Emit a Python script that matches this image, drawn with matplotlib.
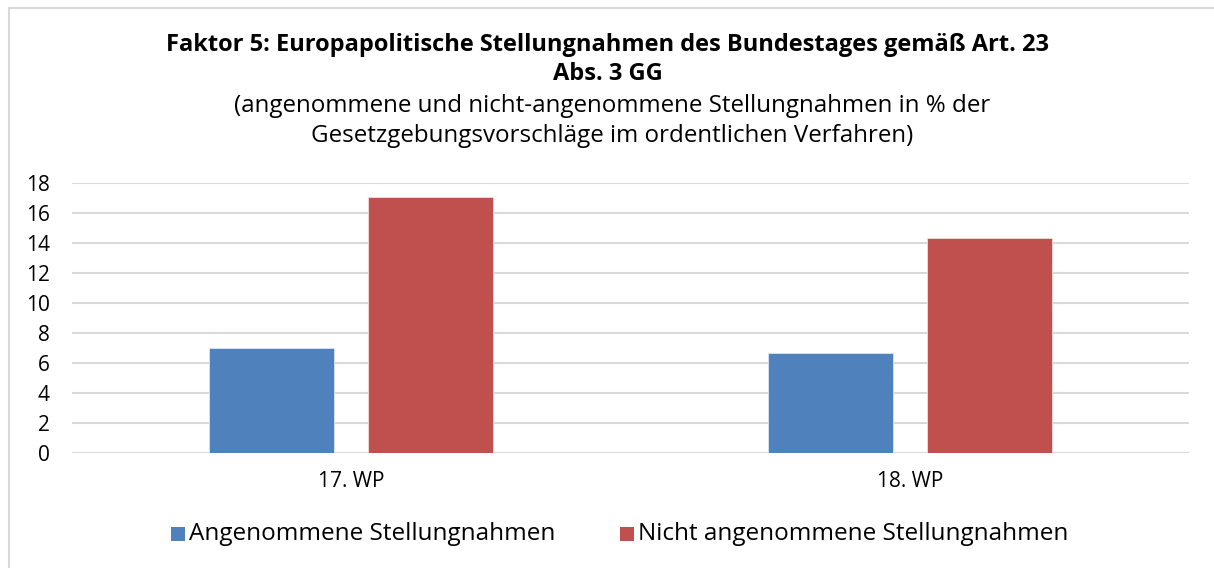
import matplotlib
matplotlib.use('Agg')
import matplotlib.pyplot as plt
from matplotlib.patches import Rectangle
import numpy as np

# data
periods = ['17. WP', '18. WP']
angenommen = [6.97, 6.65]
nicht_angenommen = [17.07, 14.31]
series_names = ['Angenommene Stellungnahmen', 'Nicht angenommene Stellungnahmen']
yticks = list(range(0, 20, 2))

blue = '#4f81bd'
red = '#c0504d'
grid = '#d9d9d9'

plt.rcParams['font.family'] = ['Open Sans', 'DejaVu Sans']

W, H = 1214, 568
fig = plt.figure(figsize=(W / 100, H / 100), dpi=100)

# outer chart border (cut off on the right and bottom like the source)
fig.patches.append(Rectangle((9 / W, -0.1), 1.2, 1 - 8 / H + 0.1, transform=fig.transFigure,
                             fill=False, edgecolor=grid, linewidth=1.5))

ax = fig.add_axes([72 / W, 1 - 453 / H, (1189 - 72) / W, (453 - 183) / H])
x = np.arange(len(periods))
bw = 0.224
off = 0.1424
ax.bar(x - off, angenommen, bw, color=blue, edgecolor='#dce6f2', linewidth=0.6, zorder=3)
ax.bar(x + off, nicht_angenommen, bw, color=red, edgecolor='#f2dcdb', linewidth=0.6, zorder=3)

ax.set_xlim(-0.5, len(periods) - 0.5)
ax.set_ylim(0, 18)
ax.set_yticks(yticks)
ax.set_yticklabels([str(v) for v in yticks], fontsize=15)
ax.set_xticks(x)
ax.set_xticklabels(periods, fontsize=15)
ax.yaxis.grid(True, color=grid, linewidth=1.5, zorder=0)
ax.set_axisbelow(True)
for s in ax.spines.values():
    s.set_visible(False)
ax.tick_params(axis='both', length=0)
ax.tick_params(axis='y', pad=16)
ax.tick_params(axis='x', pad=13)

# titles
fig.text(608 / W, 1 - 45 / H, 'Faktor 5: Europapolitische Stellungnahmen des Bundestages gemäß Art. 23',
         ha='center', va='center', fontsize=17, fontweight='bold')
fig.text(608 / W, 1 - 74 / H, 'Abs. 3 GG', ha='center', va='center', fontsize=17, fontweight='bold')
fig.text(612 / W, 1 - 106 / H, '(angenommene und nicht-angenommene Stellungnahmen in % der',
         ha='center', va='center', fontsize=17.4)
fig.text(612 / W, 1 - 136 / H, 'Gesetzgebungsvorschläge im ordentlichen Verfahren)',
         ha='center', va='center', fontsize=17.4)

# legend
leg = [(171, blue, series_names[0]), (620, red, series_names[1])]
for lx, col, name in leg:
    fig.patches.append(Rectangle((lx / W, 1 - 541 / H), 14 / W, 14 / H, transform=fig.transFigure,
                                 facecolor=col, edgecolor='none'))
    fig.text((lx + 18) / W, 1 - 534 / H, name, ha='left', va='center', fontsize=17.5)

fig.savefig('out.png', dpi=100)
